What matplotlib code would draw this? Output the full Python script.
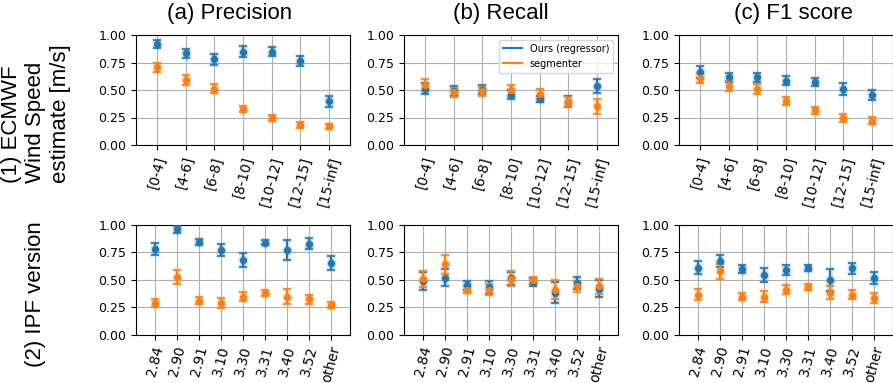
import matplotlib
matplotlib.use("Agg")
import matplotlib.pyplot as plt
from matplotlib.lines import Line2D
import numpy as np

# ---------------- data ----------------
speed_bins = ["[0-4]", "[4-6]", "[6-8]", "[8-10]", "[10-12]", "[12-15]", "[15-inf]"]
ipf_versions = ["2.84", "2.90", "2.91", "3.10", "3.30", "3.31", "3.40", "3.52", "other"]

# Row 1: wind speed bins
prec_ours = [0.92, 0.835, 0.78, 0.85, 0.85, 0.765, 0.40]
prec_ours_err = [0.035, 0.04, 0.05, 0.05, 0.045, 0.045, 0.05]
prec_seg = [0.705, 0.592, 0.512, 0.328, 0.245, 0.184, 0.17]
prec_seg_err = [0.045, 0.045, 0.04, 0.03, 0.025, 0.025, 0.025]

rec_ours = [0.512, 0.494, 0.503, 0.457, 0.42, 0.395, 0.537]
rec_ours_err = [0.048, 0.046, 0.043, 0.043, 0.03, 0.046, 0.062]
rec_seg = [0.543, 0.48, 0.49, 0.497, 0.466, 0.395, 0.352]
rec_seg_err = [0.054, 0.04, 0.04, 0.05, 0.046, 0.045, 0.066]

f1_ours = [0.66, 0.614, 0.614, 0.586, 0.574, 0.512, 0.454]
f1_ours_err = [0.055, 0.045, 0.045, 0.04, 0.035, 0.055, 0.045]
f1_seg = [0.608, 0.537, 0.506, 0.40, 0.315, 0.244, 0.222]
f1_seg_err = [0.045, 0.045, 0.045, 0.04, 0.03, 0.035, 0.035]

# Row 2: IPF versions
iprec_ours = [0.784, 0.96, 0.846, 0.77, 0.677, 0.84, 0.77, 0.83, 0.653]
iprec_ours_err = [0.055, 0.035, 0.03, 0.055, 0.065, 0.027, 0.09, 0.05, 0.06]
iprec_seg = [0.29, 0.524, 0.31, 0.29, 0.347, 0.38, 0.347, 0.32, 0.27]
iprec_seg_err = [0.035, 0.067, 0.03, 0.045, 0.04, 0.03, 0.065, 0.04, 0.03]

irec_ours = [0.49, 0.52, 0.45, 0.43, 0.515, 0.48, 0.38, 0.47, 0.42]
irec_ours_err = [0.083, 0.08, 0.042, 0.06, 0.06, 0.04, 0.095, 0.055, 0.08]
irec_seg = [0.51, 0.64, 0.41, 0.41, 0.51, 0.495, 0.41, 0.44, 0.44]
irec_seg_err = [0.072, 0.09, 0.035, 0.05, 0.07, 0.033, 0.09, 0.05, 0.07]

if1_ours = [0.61, 0.668, 0.60, 0.546, 0.586, 0.607, 0.50, 0.607, 0.515]
if1_ours_err = [0.06, 0.055, 0.035, 0.065, 0.045, 0.027, 0.10, 0.05, 0.056]
if1_seg = [0.365, 0.576, 0.347, 0.347, 0.41, 0.433, 0.38, 0.365, 0.33]
if1_seg_err = [0.05, 0.065, 0.028, 0.05, 0.04, 0.025, 0.06, 0.043, 0.046]

col_titles = ["(a) Precision", "(b) Recall", "(c) F1 score"]
row_labels = ["(1) ECMWF\nWind Speed\nestimate [m/s]", "(2) IPF version"]
legend_labels = ["Ours (regressor)", "segmenter"]

BLUE = "#1f77b4"
ORANGE = "#ff7f0e"

# ---------------- layout ----------------
W, H = 893, 383
fig = plt.figure(figsize=(W / 100, H / 100), dpi=100)

col_left = [136, 404, 679]
ax_w = 214
rows_px = [(35, 145), (225, 334.5)]

def rect(left, top, bottom):
    return [left / W, (H - bottom) / H, ax_w / W, (bottom - top) / H]

data = [
    [(prec_ours, prec_ours_err, prec_seg, prec_seg_err),
     (rec_ours, rec_ours_err, rec_seg, rec_seg_err),
     (f1_ours, f1_ours_err, f1_seg, f1_seg_err)],
    [(iprec_ours, iprec_ours_err, iprec_seg, iprec_seg_err),
     (irec_ours, irec_ours_err, irec_seg, irec_seg_err),
     (if1_ours, if1_ours_err, if1_seg, if1_seg_err)],
]
cats = [speed_bins, ipf_versions]
xlims = [(-0.73, len(speed_bins) - 1 + 0.73), (-0.85, len(ipf_versions) - 1 + 0.85)]

def draw(ax, x, y, e, color):
    # light halo
    ax.errorbar(x, y, yerr=e, fmt="o", color=color, alpha=0.15, markersize=6.5,
                elinewidth=3.5, capsize=3.5, capthick=3, zorder=2)
    ax.errorbar(x, y, yerr=e, fmt="o", color=color, markersize=4.2,
                elinewidth=1.5, capsize=3, capthick=1.2, zorder=3)

for r in range(2):
    top, bottom = rows_px[r]
    for c in range(3):
        ax = fig.add_axes(rect(col_left[c], top, bottom))
        x = np.arange(len(cats[r]))
        yo, eo, ys, es = data[r][c]
        draw(ax, x, yo, eo, BLUE)
        draw(ax, x, ys, es, ORANGE)
        ax.set_ylim(0, 1.0)
        ax.set_yticks([0, 0.25, 0.5, 0.75, 1.0])
        ax.set_yticklabels(["0.00", "0.25", "0.50", "0.75", "1.00"], fontsize=9)
        ax.set_xlim(*xlims[r])
        ax.set_xticks(x)
        ax.set_xticklabels(cats[r], rotation=75, fontsize=10)
        ax.grid(True, color="#b0b0b0", linewidth=0.8)
        ax.set_axisbelow(True)
        if r == 0 and c == 1:
            handles = [Line2D([], [], color=BLUE, lw=1.5), Line2D([], [], color=ORANGE, lw=1.5)]
            ax.legend(handles, legend_labels, loc="upper right", fontsize=7)

# column titles
title_x = [229.5, 501, 793]
for tx, t in zip(title_x, col_titles):
    fig.text(tx / W, 1 - 14 / H, t, ha="center", va="center",
             fontsize=16, family="Liberation Sans")

# row labels
fig.text(36 / W, 1 - 183 / H, row_labels[0], rotation=90, ha="center", va="bottom",
         multialignment="left", fontsize=16, family="Liberation Sans", linespacing=1.2)
fig.text(36 / W, 1 - 367 / H, row_labels[1], rotation=90, ha="center", va="bottom",
         fontsize=16, family="Liberation Sans")

fig.savefig("out.png", dpi=100)
